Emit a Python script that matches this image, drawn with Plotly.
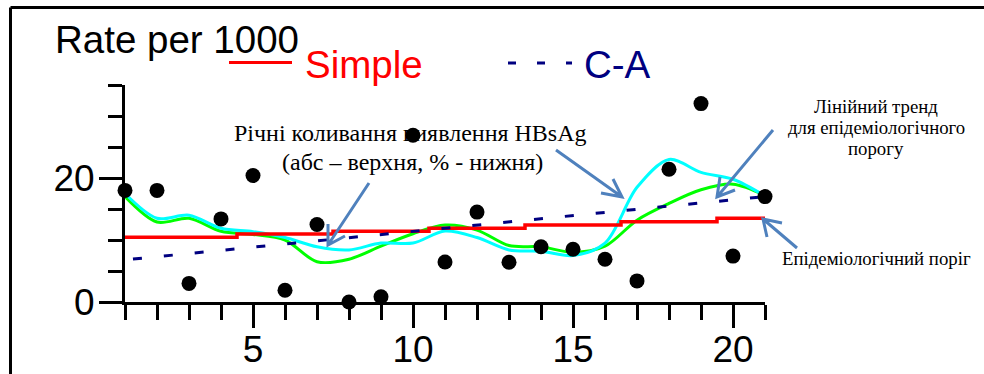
import plotly.graph_objects as go

# ---------------- data ----------------
years = list(range(1, 22))
hbsag_rate = [18.0, 18.0, 3.0, 13.4, 20.4, 1.9, 12.5, 0.0, 0.85, 26.9, 6.45,
              14.5, 6.4, 8.9, 8.5, 6.9, 3.4, 21.4, 32.0, 7.4, 17.0]
smooth_abs = [17.5, 13.5, 14.0, 11.9, 11.35, 10.4, 8.9, 8.4, 9.5, 9.5, 11.45,
              10.4, 8.4, 8.2, 7.5, 9.5, 18.5, 23.0, 20.9, 19.8, 17.1]
smooth_pct = [17.0, 12.9, 13.5, 11.4, 10.9, 10.0, 6.5, 6.9, 9.0, 11.0, 12.4,
              11.6, 9.1, 8.9, 8.0, 9.0, 13.2, 15.9, 18.1, 19.0, 17.2]
threshold_x = [1, 4.5, 7.5, 10.5, 13.5, 16.5, 19.5, 21]
threshold = [10.45, 10.95, 11.4, 11.9, 12.4, 12.95, 13.5, 13.5]
ca_x = [1, 21]
ca = [6.8, 17.0]

x_tickvals = [5, 10, 15, 20]
x_ticktext = ["5", "10", "15", "20"]
y_tickvals = [0, 20]
y_ticktext = ["0", "20"]
y_minor = [5, 10, 15, 25, 30, 35]

# ---------------- layout geometry (pixels) ----------------
W, H = 984, 374
L, R, T, B = 125, 765, 85, 302


def px(p):
    return (p - L) / (R - L)


def py(p):
    return (B - p) / (B - T)


SANS = "Liberation Sans, Arial, sans-serif"
SERIF = "Liberation Serif, Times New Roman, serif"
ARROW = "#4F81BD"

fig = go.Figure()
fig.add_trace(go.Scatter(x=years, y=smooth_pct, mode="lines",
                         line=dict(color="#00FF00", width=3, shape="spline", smoothing=0.9),
                         cliponaxis=False, hoverinfo="skip"))
fig.add_trace(go.Scatter(x=years, y=smooth_abs, mode="lines",
                         line=dict(color="#00FFFF", width=3, shape="spline", smoothing=0.9),
                         cliponaxis=False, hoverinfo="skip"))
fig.add_trace(go.Scatter(x=threshold_x, y=threshold, mode="lines", name="Simple",
                         line=dict(color="#FF0000", width=3.5, shape="hv"),
                         cliponaxis=False))
fig.add_trace(go.Scatter(x=ca_x, y=ca, mode="lines", name="C-A",
                         line=dict(color="#000080", width=3, dash="0px,8px,9px,14px"),
                         cliponaxis=False))
fig.add_trace(go.Scatter(x=years, y=hbsag_rate, mode="markers",
                         marker=dict(color="black", size=15),
                         cliponaxis=False))

shapes = []
# outer frame (top and left)
shapes.append(dict(type="line", xref="paper", yref="paper",
                   x0=px(10.5), y0=py(7.5), x1=px(995), y1=py(7.5),
                   line=dict(color="black", width=3)))
shapes.append(dict(type="line", xref="paper", yref="paper",
                   x0=px(10.5), y0=py(7.5), x1=px(10.5), y1=py(390),
                   line=dict(color="black", width=3)))
# legend samples
shapes.append(dict(type="line", xref="paper", yref="paper",
                   x0=px(229), y0=py(62.5), x1=px(292), y1=py(62.5),
                   line=dict(color="#FF0000", width=3)))
shapes.append(dict(type="line", xref="paper", yref="paper",
                   x0=px(508), y0=py(63), x1=px(572), y1=py(63),
                   line=dict(color="#000080", width=3, dash="8px,21px")))


def arrow(tail, tip, a1, a2):
    p = "M {} {} L {} {} M {} {} L {} {} L {} {}".format(
        px(tail[0]), py(tail[1]), px(tip[0]), py(tip[1]),
        px(a1[0]), py(a1[1]), px(tip[0]), py(tip[1]), px(a2[0]), py(a2[1]))
    return dict(type="path", xref="paper", yref="paper", path=p,
                line=dict(color=ARROW, width=3))


shapes.append(arrow((369, 183), (328, 245), (328, 224), (345, 236)))
shapes.append(arrow((556, 150), (622, 197), (613, 179), (601, 193)))
shapes.append(arrow((773, 130), (717, 197), (720, 177), (735, 190)))
shapes.append(arrow((797, 248), (763, 219), (782, 223), (767, 237)))

annotations = []


def text(t, x, y, size, color="black", family=SANS, xanchor="left"):
    annotations.append(dict(text=t, x=px(x), y=py(y), xref="paper", yref="paper",
                            xanchor=xanchor, yanchor="middle", showarrow=False,
                            font=dict(family=family, size=size, color=color)))


text("Rate per 1000", 53, 39, 38.5)
text("Simple", 303, 64, 38.5, color="#FF0000")
text("C-A", 582, 64, 38.5, color="#000080")
text("Річні коливання виявлення HBsAg", 410, 133, 24, family=SERIF, xanchor="center")
text("(абс – верхня, % - нижня)", 412, 162, 24, family=SERIF, xanchor="center")
text("Лінійний тренд", 876, 106, 18.8, family=SERIF, xanchor="center")
text("для епідеміологічного", 876, 127, 18.8, family=SERIF, xanchor="center")
text("порогу", 876, 148, 18.8, family=SERIF, xanchor="center")
text("Епідеміологічний поріг", 876, 258, 18.8, family=SERIF, xanchor="center")

fig.update_layout(
    width=W, height=H,
    margin=dict(l=L, r=W - R, t=T, b=H - B, pad=0, autoexpand=False),
    paper_bgcolor="white", plot_bgcolor="white",
    showlegend=False,
    shapes=shapes, annotations=annotations,
    xaxis=dict(range=[1, 21], tickmode="array", tickvals=x_tickvals, ticktext=x_ticktext,
               ticks="outside", ticklen=23, tickwidth=3, tickcolor="black",
               showline=True, linewidth=3, linecolor="black", automargin=False,
               showgrid=False, zeroline=False, ticklabelstandoff=-10,
               tickfont=dict(family=SANS, size=37, color="black"),
               minor=dict(dtick=1, tick0=0, ticks="outside", ticklen=15, tickwidth=3,
                          tickcolor="black", showgrid=False)),
    yaxis=dict(range=[0, 35], tickmode="array", tickvals=y_tickvals, ticktext=y_ticktext,
               ticks="outside", ticklen=23, tickwidth=3, tickcolor="black",
               showline=True, linewidth=3, linecolor="black", automargin=False,
               showgrid=False, zeroline=False, ticklabelstandoff=-3,
               tickfont=dict(family=SANS, size=37, color="black"),
               minor=dict(tickmode="array", tickvals=y_minor, ticks="outside", ticklen=14,
                          tickwidth=3, tickcolor="black", showgrid=False)),
)

fig.write_html("out.html",
               config={"displayModeBar": False},
               post_script="document.body.style.margin='0';"
                           "document.body.style.overflow='hidden';")
